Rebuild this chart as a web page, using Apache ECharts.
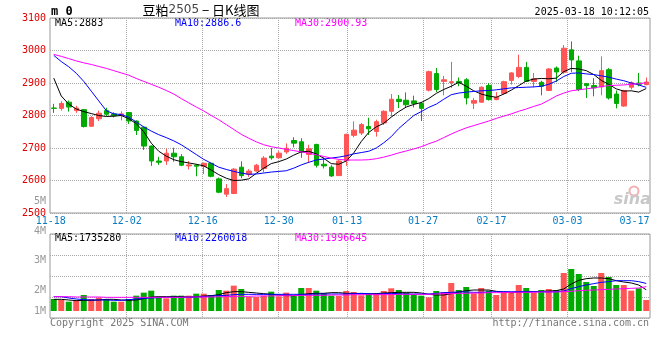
<!DOCTYPE html>
<html><head><meta charset="utf-8">
<script src="https://cdn.jsdelivr.net/npm/echarts@6/dist/echarts.min.js"></script>
<style>html,body{margin:0;padding:0;background:#fff}#c{width:660px;height:360px}</style>
</head><body><div id="c"></div>
<script>
// ---------------- data ----------------
const dates = ['11-18','11-19','11-20','11-21','11-22','11-25','11-26','11-27','11-28','11-29',
'12-02','12-03','12-04','12-05','12-06','12-09','12-10','12-11','12-12','12-13',
'12-16','12-17','12-18','12-19','12-20','12-23','12-24','12-25','12-26','12-27',
'12-30','12-31','01-02','01-03','01-06','01-07','01-08','01-09','01-10',
'01-13','01-14','01-15','01-16','01-17','01-20','01-21','01-22','01-23','01-24',
'01-27','02-05','02-06','02-07','02-10','02-11','02-12','02-13','02-14',
'02-17','02-18','02-19','02-20','02-21','02-24','02-25','02-26','02-27','02-28',
'03-03','03-04','03-05','03-06','03-07','03-10','03-11','03-12','03-13','03-14',
'03-17','03-18'];
const opens = [2823,2822,2841,2815,2818,2767,2790,2815,2805,2800,
2809,2783,2764,2706,2660,2660,2684,2673,2645,2647,
2643,2653,2605,2558,2560,2641,2619,2629,2637,2675,
2670,2688,2723,2719,2680,2711,2650,2641,2615,
2661,2739,2746,2766,2751,2777,2813,2850,2847,2845,
2837,2878,2929,2905,2901,2905,2910,2838,2841,
2892,2849,2868,2908,2920,2948,2905,2902,2877,2946,
2933,3002,2968,2898,2892,2888,2941,2866,2829,2887,
2900,2895];
const closes = [2822,2837,2826,2823,2766,2794,2807,2804,2799,2805,
2783,2754,2706,2660,2656,2684,2673,2647,2648,2644,
2653,2613,2564,2575,2635,2615,2629,2647,2669,2670,
2684,2699,2715,2688,2698,2647,2645,2614,2660,
2742,2755,2772,2759,2781,2813,2850,2843,2833,2837,
2822,2935,2880,2910,2904,2900,2854,2846,2887,
2849,2856,2904,2931,2948,2905,2913,2890,2943,2934,
3007,2971,2880,2892,2885,2938,2854,2837,2877,2901,
2896,2903];
const lows = [2808,2815,2812,2808,2763,2765,2783,2798,2794,2785,
2774,2740,2694,2645,2648,2648,2658,2644,2634,2613,
2620,2610,2561,2549,2558,2607,2611,2627,2625,2664,
2668,2682,2702,2670,2654,2640,2637,2611,2614,
2645,2733,2740,2740,2735,2771,2797,2823,2823,2825,
2783,2874,2872,2862,2885,2890,2834,2820,2839,
2846,2847,2864,2895,2915,2903,2887,2862,2875,2903,
2928,2934,2875,2854,2859,2862,2849,2822,2827,2880,
2890,2893];
const highs = [2836,2844,2846,2830,2820,2798,2815,2824,2810,2813,
2811,2785,2766,2708,2673,2698,2701,2681,2660,2650,
2655,2655,2609,2589,2638,2659,2635,2651,2675,2700,
2690,2714,2733,2730,2710,2713,2671,2647,2664,
2744,2782,2777,2793,2787,2816,2866,2863,2871,2861,
2842,2938,2946,2922,2965,2917,2915,2854,2890,
2900,2872,2907,2933,2987,2965,2931,2907,2946,2951,
3017,3028,2984,2900,2915,2982,2946,2877,2879,2905,
2931,2917];
const volumes = [984000,902000,765000,902000,1311000,984000,1093000,984000,765000,765000,
984000,1257000,1503000,1667000,1175000,1038000,1257000,1257000,1257000,1421000,
1421000,1311000,1721000,1667000,2077000,1803000,1148000,1148000,1257000,1585000,
1202000,1503000,1230000,1885000,1885000,1667000,1475000,1257000,1230000,
1639000,1557000,1284000,1448000,1448000,1639000,1858000,1721000,1503000,1366000,
1257000,1120000,1639000,1557000,2295000,1721000,1967000,1448000,1885000,
1667000,1311000,1503000,1503000,2131000,1885000,1503000,1721000,1803000,1721000,
3115000,3443000,3033000,2377000,2049000,3115000,2787000,2131000,2131000,1667000,
1858000,902000];
const priceMA5 = [2915,2860,2835,2820,2812,2806,2800,2797,2798,2800,
2790,2775,2750,2715,2690,2675,2664,2658,2654,2650,
2645,2632,2618,2607,2600,2601,2605,2622,2638,2652,
2658,2666,2678,2688,2690,2682,2668,2652,2650,2660,
2685,2720,2748,2765,2776,2795,2812,2826,2834,2840,
2852,2868,2880,2890,2902,2890,2876,2866,2860,2856,
2866,2878,2892,2906,2912,2914,2913,2915,2935,2945,
2943,2938,2926,2908,2896,2882,2875,2876,2872,2883];
const priceMA10 = [2985,2966,2950,2930,2905,2875,2845,2815,2805,2803,
2795,2780,2765,2752,2741,2732,2722,2710,2695,2680,
2665,2653,2641,2634,2628,2623,2619,2620,2623,2626,
2628,2630,2638,2648,2656,2663,2666,2669,2672,2676,
2682,2686,2690,2700,2716,2735,2760,2780,2800,2812,
2825,2835,2850,2864,2869,2872,2874,2876,2877,2879,
2882,2885,2886,2887,2888,2890,2896,2906,2920,2930,
2931,2928,2926,2922,2918,2912,2907,2900,2894,2886.6];
const priceMA30 = [2988,2982,2975,2968,2962,2957,2951,2945,2938,2931,
2924,2914,2905,2896,2887,2877,2866,2852,2839,2826,
2814,2800,2787,2772,2757,2742,2730,2719,2710,2704,
2700,2696,2692,2688,2684,2679,2674,2669,2665,2663,
2663,2663,2664,2667,2672,2678,2685,2691,2697,2704,
2713,2721,2732,2743,2753,2762,2769,2776,2783,2791,
2798,2805,2813,2820,2828,2835,2847,2860,2869,2876,
2879,2882,2885,2889,2892,2893,2894,2896,2898,2900.93];
const volMA5 = [956000,956000,902000,847000,874000,874000,902000,956000,956000,902000,
874000,902000,1011000,1148000,1175000,1175000,1175000,1175000,1148000,1175000,
1230000,1257000,1339000,1503000,1585000,1585000,1530000,1475000,1421000,1366000,
1311000,1257000,1257000,1339000,1421000,1448000,1448000,1503000,1503000,1448000,
1448000,1421000,1393000,1421000,1475000,1503000,1530000,1530000,1530000,1475000,
1366000,1311000,1311000,1421000,1557000,1667000,1721000,1721000,1721000,1612000,
1557000,1503000,1530000,1557000,1585000,1612000,1639000,1667000,1803000,2213000,
2514000,2650000,2705000,2705000,2650000,2486000,2377000,2295000,2131000,1735280];
const volMA10 = [1175000,1175000,1066000,984000,929000,902000,902000,902000,874000,874000,
929000,984000,1038000,1066000,1093000,1120000,1120000,1120000,1120000,1148000,
1175000,1230000,1257000,1284000,1339000,1366000,1366000,1366000,1366000,1366000,
1366000,1366000,1366000,1366000,1366000,1393000,1393000,1393000,1393000,1393000,
1421000,1448000,1421000,1393000,1421000,1448000,1421000,1393000,1393000,1393000,
1393000,1448000,1503000,1530000,1557000,1557000,1530000,1530000,1557000,1585000,
1585000,1585000,1585000,1585000,1585000,1585000,1557000,1585000,1639000,1831000,
1995000,2131000,2240000,2350000,2404000,2486000,2486000,2486000,2404000,2260018];
const volMA30 = [1175000,1175000,1175000,1148000,1148000,1148000,1148000,1120000,1120000,1120000,
1120000,1120000,1120000,1120000,1120000,1120000,1120000,1120000,1148000,1148000,
1148000,1148000,1175000,1175000,1202000,1202000,1202000,1230000,1230000,1230000,
1257000,1257000,1257000,1284000,1284000,1284000,1284000,1311000,1311000,1311000,
1339000,1339000,1339000,1339000,1339000,1339000,1366000,1366000,1366000,1366000,
1366000,1393000,1421000,1421000,1448000,1448000,1475000,1475000,1503000,1503000,
1503000,1530000,1530000,1530000,1530000,1557000,1557000,1557000,1585000,1612000,
1667000,1694000,1721000,1749000,1776000,1803000,1831000,1858000,1885000,1996645];
const dateTicks = ['11-18','12-02','12-16','12-30','01-13','01-27','02-17','03-03','03-17'];
const priceTicks = [2500,2600,2700,2800,2900,3000,3100];
const volTickLabels = ['5M','4M','3M','2M','1M'];
const titleParts = ['豆粕','2505',' − 日K线图'];
const symbolText = 'm 0';
const timeText = '2025-03-18 10:12:05';
const footLeft = 'Copyright 2025 SINA.COM';
const footRight = 'http://finance.sina.com.cn';

// ---------------- styles / layout ----------------
const MONO = "'DejaVu Sans Mono','Liberation Mono',monospace";
const RED = '#ff5555', GREEN = '#00aa00';
const C5 = '#000000', C10 = '#0000ff', C30 = '#ff00ff';
const DOT = {show:true, lineStyle:{color:'#a8a8a8', width:1, type:[1,1]}};
const last = a => a[a.length-1];
const tickIdx = dateTicks.map(d => dates.indexOf(d));
const innerIdx = tickIdx.slice(1, -1);
const lastTick = last(tickIdx);
const volLabelY = [201, 231, 260.5, 290.5, 311];

const kData = dates.map((d,i) => [opens[i], closes[i], lows[i], highs[i]]);
const volData = volumes.map((v,i) => ({value:v, itemStyle:{color: closes[i] >= opens[i] ? RED : GREEN}}));

const hiddenCat = (g) => ({type:'category', gridIndex:g, data:dates, boundaryGap:true, position:'top',
  axisLine:{show:false}, axisTick:{show:false}, axisLabel:{show:false}, splitLine:{show:false}});
const gridX = (g, labels) => ({type:'value', gridIndex:g, min:-0.092, max:78.855, position:'bottom',
  axisLine:{show:false},
  axisTick:{show:false, customValues: innerIdx},
  splitLine: DOT,
  axisLabel: labels ? {show:true, customValues: tickIdx, color:'#0a7cc4', fontFamily:MONO, fontSize:10, margin:3,
     formatter: v => { const i = Math.round(v); return i === lastTick ? '{r|' + dates[i] + '}' : dates[i]; },
     rich:{r:{padding:[0,18,0,0], color:'#0a7cc4', fontFamily:MONO, fontSize:10}}} : {show:false}
});

const lineS = (name, data, color, xi, yi) => ({name, type:'line', data, xAxisIndex:xi, yAxisIndex:yi,
  symbol:'none', silent:true, lineStyle:{color, width:1}, itemStyle:{color}, z:5});

const legendTexts = (items, y) => items.map(([lab, arr, color], k) => ({
  type:'text', x: 55 + 120*k, y, style:{text: lab + ':' + last(arr), fill: color, font: '10px ' + MONO, verticalAlign:'middle'}}));

const option = {
  animation:false,
  backgroundColor:'#fff',
  textStyle:{fontFamily:MONO},
  grid:[
    {left:50, right:10, top:18, height:195, show:true, borderColor:'#999', borderWidth:1, outerBoundsMode:'none', containLabel:false},
    {left:50, right:10, top:234, height:84, show:true, borderColor:'#999', borderWidth:1, outerBoundsMode:'none', containLabel:false}
  ],
  xAxis:[ hiddenCat(0), hiddenCat(1), gridX(0, true), gridX(1, false) ],
  yAxis:[
    {type:'value', gridIndex:0, min:priceTicks[0], max:last(priceTicks), interval:priceTicks[1]-priceTicks[0],
      axisLine:{show:false}, axisTick:{show:false}, splitLine:DOT,
      axisLabel:{color:'#e00000', fontFamily:MONO, fontSize:10, margin:4, padding:[0,0,3,0], formatter: v => String(v)}},
    {type:'value', gridIndex:1, min:-574000, max:6311000,
      axisLine:{show:false}, axisTick:{show:false}, splitLine:{show:false}, axisLabel:{show:false}},
    {type:'value', gridIndex:1, min:0, max:4, interval:1, position:'right',
      axisLine:{show:false}, axisTick:{show:false}, splitLine:DOT, axisLabel:{show:false}}
  ],
  series:[
    {type:'candlestick', xAxisIndex:0, yAxisIndex:0, data:kData, barWidth:5, silent:true,
      itemStyle:{color:RED, color0:GREEN, borderColor:RED, borderColor0:GREEN, borderWidth:1}},
    lineS('MA5', priceMA5, C5, 0, 0),
    lineS('MA10', priceMA10, C10, 0, 0),
    lineS('MA30', priceMA30, C30, 0, 0),
    {type:'bar', xAxisIndex:1, yAxisIndex:1, data:volData, barWidth:6, silent:true},
    lineS('VMA5', volMA5, C5, 1, 1),
    lineS('VMA10', volMA10, C10, 1, 1),
    lineS('VMA30', volMA30, C30, 1, 1)
  ],
  graphic:[
    {type:'text', x:51, y:12, style:{text:symbolText, font:'bold 12px ' + MONO, fill:'#000', verticalAlign:'middle'}},
    {type:'text', x:201, y:10, style:{
      text:'{a|' + titleParts[0] + '}{b|' + titleParts[1] + '}{a|' + titleParts[2] + '}',
      align:'center', verticalAlign:'middle',
      rich:{a:{font:"13px 'Noto Sans CJK SC'", fill:'#000'}, b:{font:"12px 'DejaVu Sans'", fill:'#444'}}}},
    {type:'text', x:649, y:12, style:{text:timeText, font:'10px ' + MONO, fill:'#000', align:'right', verticalAlign:'middle'}},
    ...legendTexts([['MA5', priceMA5, C5], ['MA10', priceMA10, C10], ['MA30', priceMA30, C30]], 23),
    ...legendTexts([['MA5', volMA5, C5], ['MA10', volMA10, C10], ['MA30', volMA30, C30]], 238.5),
    ...volTickLabels.map((t,k) => ({type:'text', x:46, y:volLabelY[k], style:{text:t, font:'10px ' + MONO, fill:'#999', align:'right', verticalAlign:'middle'}})),
    {type:'text', x:50, y:323.5, style:{text:footLeft, font:'10px ' + MONO, fill:'#777', verticalAlign:'middle'}},
    {type:'text', x:649, y:323.5, style:{text:footRight, font:'10px ' + MONO, fill:'#777', align:'right', verticalAlign:'middle'}},
    {type:'circle', shape:{cx:634, cy:191, r:4.5}, style:{fill:'none', stroke:'#f2b0b0', lineWidth:2}, z:1},
    {type:'text', x:651, y:200, z:1, style:{text:'sina', font:"italic bold 16px 'DejaVu Sans'", fill:'#c8c8c8', align:'right', verticalAlign:'middle'}}
  ]
};
const chart = echarts.init(document.getElementById('c'), null, {renderer:'canvas', width:660, height:360});
chart.setOption(option);
</script>
</body></html>
